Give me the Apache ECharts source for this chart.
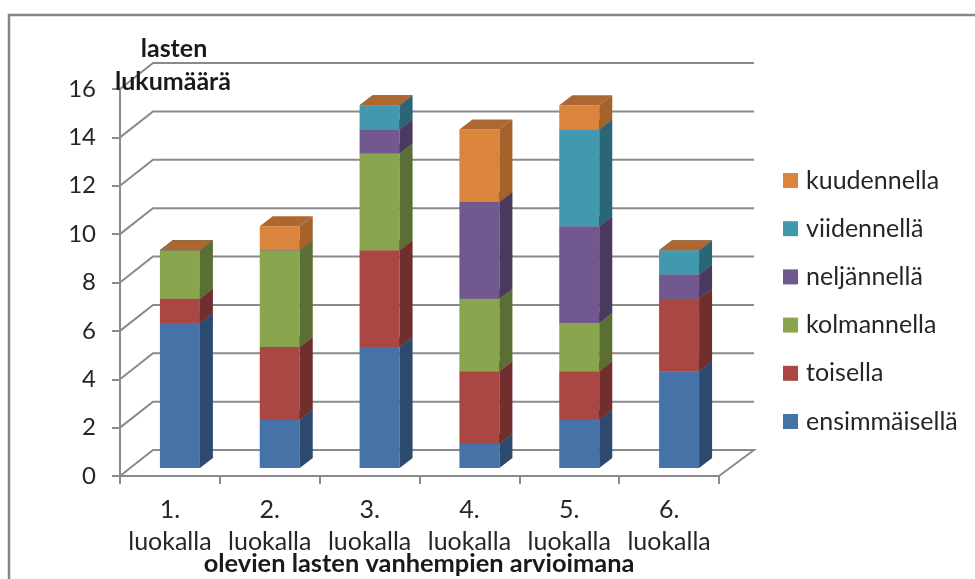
<!DOCTYPE html>
<html>
<head>
<meta charset="utf-8">
<style>html,body{margin:0;padding:0;background:#fff;overflow:hidden}#chart{width:975px;height:579px}</style>
<script src="https://cdn.jsdelivr.net/npm/echarts@6/dist/echarts.min.js"></script>
</head>
<body>
<div id="chart"></div>
<script>
// Lapset luokittain: stacked counts drawn as pseudo-3D columns.
const categories = ['1.\nluokalla', '2.\nluokalla', '3.\nluokalla', '4.\nluokalla', '5.\nluokalla', '6.\nluokalla'];
const seriesNames = ['ensimmäisellä', 'toisella', 'kolmannella', 'neljännellä', 'viidennellä', 'kuudennella'];
const ensimmaisella = [6, 2, 5, 1, 2, 4];
const toisella = [1, 3, 4, 3, 2, 3];
const kolmannella = [2, 4, 4, 3, 2, 0];
const neljannella = [0, 0, 1, 4, 4, 1];
const viidennella = [0, 0, 1, 0, 4, 1];
const kuudennella = [0, 1, 0, 3, 1, 0];
const gridValues = [0, 2, 4, 6, 8, 10, 12, 14, 16];

const seriesValues = [ensimmaisella, toisella, kolmannella, neljannella, viidennella, kuudennella];
const frontColors = ['#4572A7', '#AA4643', '#89A54E', '#71588F', '#4198AF', '#DB843D'];
const sideColors = ['#2C4A6E', '#702E2C', '#5B6E33', '#4A3A5F', '#2A6578', '#A5622B'];
const topColors = ['#345682', '#853735', '#6C823D', '#594570', '#33778A', '#AE6730'];

const FONT = 'Lato';
const TEXT = '#262626';
const LINE = '#8a8a8a';
// Oblique offset of the back wall and of a column's depth, in pixels.
const WALL_DX = 33, WALL_DY = 26;
const BAR_W = 40, BAR_LEFT = 10, BAR_LIFT = 8, BAR_DX = 13, BAR_DY = 10;

function renderWall(params, api) {
  const v = api.value(0);
  const cs = params.coordSys;
  const y = api.coord([0, v])[1];
  const x0 = cs.x, x1 = cs.x + cs.width;
  const pts = [[x0, y], [x0 + WALL_DX, y - WALL_DY], [x1 + WALL_DX + 2, y - WALL_DY]];
  if (v === 0) pts.push([x1, y]);
  return {
    type: 'polyline',
    shape: { points: pts },
    style: { stroke: LINE, lineWidth: 2, fill: null }
  };
}

function makeBarRenderer(k) {
  return function (params, api) {
    const c = api.coord([api.value(0), api.value(1)]);
    const t = api.coord([api.value(0), api.value(2)]);
    const xL = c[0] - BAR_LEFT, xR = xL + BAR_W;
    const yB = c[1] - BAR_LIFT, yT = t[1] - BAR_LIFT;
    const poly = (points, fill) => ({
      type: 'polygon', shape: { points }, style: { fill, stroke: null }
    });
    return {
      type: 'group',
      children: [
        poly([[xL, yT], [xR, yT], [xR, yB], [xL, yB]], frontColors[k]),
        poly([[xR, yT], [xR + BAR_DX, yT - BAR_DY], [xR + BAR_DX, yB - BAR_DY], [xR, yB]], sideColors[k]),
        poly([[xL, yT], [xR, yT], [xR + BAR_DX, yT - BAR_DY], [xL + BAR_DX, yT - BAR_DY]], topColors[k])
      ]
    };
  };
}

const running = categories.map(() => 0);
const barSeries = seriesNames.map((name, k) => {
  const data = seriesValues[k].map((v, i) => {
    const base = running[i];
    running[i] += v;
    return [i, base, running[i]];
  });
  return {
    type: 'custom',
    name,
    z: 5,
    itemStyle: { color: frontColors[k] },
    renderItem: makeBarRenderer(k),
    encode: { x: 0, y: [1, 2] },
    clip: false,
    data
  };
});

const wallSeries = {
  type: 'custom',
  silent: true,
  z: 1,
  clip: false,
  renderItem: renderWall,
  encode: { y: 0 },
  data: gridValues.map(v => [v])
};

const chart = echarts.init(document.getElementById('chart'), null, { renderer: 'canvas' });
const boldText = { fontFamily: FONT, fontSize: 25, fontWeight: 'bold', color: '#1a1a1a' };
chart.setOption({
  animation: false,
  backgroundColor: '#ffffff',
  textStyle: { fontFamily: FONT },
  graphic: [{
    type: 'rect', silent: true, z: 0,
    shape: { x: 9, y: 15, width: 1000, height: 620 },
    style: { fill: null, stroke: '#868686', lineWidth: 2.5 }
  }],
  title: [
    { text: 'lasten', left: 174, top: 36, textAlign: 'center', padding: 0, textStyle: boldText, z: 8 },
    { text: 'lukumäärä', left: 173, top: 69, textAlign: 'center', padding: 0, textStyle: boldText, z: 8 },
    { text: 'olevien lasten vanhempien arvioimana', left: 419, top: 551, textAlign: 'center', padding: 0,
      textStyle: Object.assign({}, boldText, { fontSize: 25.4 }), z: 8 }
  ],
  grid: { left: 120, top: 89, width: 599, height: 387, containLabel: false },
  xAxis: {
    type: 'category',
    data: categories,
    boundaryGap: true,
    axisLine: { show: true, lineStyle: { color: LINE, width: 2 } },
    axisTick: { show: true, length: 8, alignWithLabel: false, lineStyle: { color: LINE, width: 2 } },
    axisLabel: { interval: 0, color: TEXT, fontFamily: FONT, fontSize: 25, lineHeight: 32, margin: 18 }
  },
  yAxis: {
    type: 'value',
    min: 0,
    max: 16,
    interval: 2,
    splitLine: { show: false },
    axisLine: { show: true, lineStyle: { color: LINE, width: 2 } },
    axisTick: { show: true, length: 8, lineStyle: { color: LINE, width: 2 } },
    axisLabel: { color: TEXT, fontFamily: FONT, fontSize: 24, margin: 24 }
  },
  legend: {
    orient: 'vertical',
    left: 783,
    top: 168,
    padding: 0,
    data: seriesNames.slice().reverse(),
    icon: 'rect',
    itemWidth: 15,
    itemHeight: 15,
    itemGap: 23.2,
    textStyle: { color: TEXT, fontFamily: FONT, fontSize: 25, padding: [0, 0, 0, 3] }
  },
  series: [wallSeries].concat(barSeries)
});
</script>
</body>
</html>
